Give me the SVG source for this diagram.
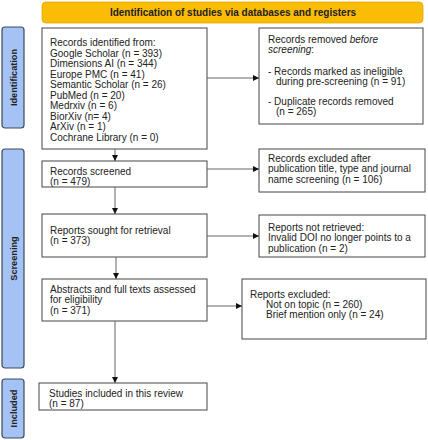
<svg xmlns="http://www.w3.org/2000/svg" width="428" height="440" viewBox="0 0 428 440">
<defs>
<style>
.box{fill:#fff;stroke:#444;stroke-width:1}
.side{fill:#a4c2f4;stroke:#3c4a5c;stroke-width:1.2}
.t{font-family:"Liberation Sans",Arial,sans-serif;font-size:10px;fill:#222}
.b{font-family:"Liberation Sans",Arial,sans-serif;font-size:9.2px;font-weight:bold;fill:#222}
.h{font-family:"Liberation Sans",Arial,sans-serif;font-size:10px;font-weight:bold;fill:#222}
.c{stroke:#666;stroke-width:1;fill:none}
</style>
<marker id="ah" viewBox="0 0 10 10" refX="10" refY="5" markerWidth="6" markerHeight="6" orient="auto" markerUnits="userSpaceOnUse">
<path d="M0,0 L10,5 L0,10 z" fill="#111"/>
</marker>
</defs>
<rect width="428" height="440" fill="#fff"/>
<g id="header">
<rect x="42" y="2" width="381" height="21" rx="4" fill="#fbbc05" stroke="#e0a800" stroke-width="0.8"/>
<text class="h" x="233" y="16" text-anchor="middle">Identification of studies via databases and registers</text>
</g>
<g id="side-identification">
<rect class="side" x="2" y="27" width="22" height="101" rx="3"/>
<text class="b" transform="translate(16.5,77.5) rotate(-90)" text-anchor="middle">Identification</text>
</g>
<g id="side-screening">
<rect class="side" x="2" y="149" width="22" height="219" rx="3"/>
<text class="b" transform="translate(16.5,258.5) rotate(-90)" text-anchor="middle">Screening</text>
</g>
<g id="side-included">
<rect class="side" x="2" y="379" width="22" height="59" rx="3"/>
<text class="b" transform="translate(16.5,408.5) rotate(-90)" text-anchor="middle">Included</text>
</g>
<g id="records-identified">
<rect class="box" x="42" y="28" width="165" height="121"/>
<text class="t" x="50" y="46">Records identified from:</text>
<text class="t" x="50" y="56.5">Google Scholar (n = 393)</text>
<text class="t" x="50" y="67">Dimensions AI (n = 344)</text>
<text class="t" x="50" y="77.5">Europe PMC (n = 41)</text>
<text class="t" x="50" y="88">Semantic Scholar (n = 26)</text>
<text class="t" x="50" y="98.5">PubMed (n = 20)</text>
<text class="t" x="50" y="109">Medrxiv (n = 6)</text>
<text class="t" x="50" y="119.5">BiorXiv (n= 4)</text>
<text class="t" x="50" y="130">ArXiv (n = 1)</text>
<text class="t" x="50" y="140.5">Cochrane Library (n = 0)</text>
</g>
<g id="records-removed">
<rect class="box" x="259" y="28" width="164" height="96"/>
<text class="t" x="268" y="42.5">Records removed <tspan font-style="italic">before</tspan></text>
<text class="t" x="268" y="52.5"><tspan font-style="italic">screening</tspan>:</text>
<text class="t" x="268" y="74.5">- Records marked as ineligible</text>
<text class="t" x="276" y="84.5">during pre-screening (n = 91)</text>
<text class="t" x="268" y="104.5">- Duplicate records removed</text>
<text class="t" x="276" y="115">(n = 265)</text>
</g>
<g id="records-screened">
<rect class="box" x="42" y="161" width="165" height="26"/>
<text class="t" x="50" y="174.5">Records screened</text>
<text class="t" x="50" y="185">(n = 479)</text>
</g>
<g id="records-excluded">
<rect class="box" x="259" y="149" width="166" height="43"/>
<text class="t" x="268" y="161.5">Records excluded after</text>
<text class="t" x="268" y="172">publication title, type and journal</text>
<text class="t" x="268" y="182.5">name screening (n = 106)</text>
</g>
<g id="reports-sought">
<rect class="box" x="42" y="214" width="165" height="43"/>
<text class="t" x="50" y="233.5">Reports sought for retrieval</text>
<text class="t" x="50" y="244">(n = 373)</text>
</g>
<g id="reports-not-retrieved">
<rect class="box" x="259" y="215" width="166" height="42"/>
<text class="t" x="268" y="230.5">Reports not retrieved:</text>
<text class="t" x="268" y="241">Invalid DOI no longer points to a</text>
<text class="t" x="268" y="251.5">publication (n = 2)</text>
</g>
<g id="assessed">
<rect class="box" x="42" y="279" width="165" height="42"/>
<text class="t" x="50" y="292.5">Abstracts and full texts assessed</text>
<text class="t" x="50" y="303">for eligibility</text>
<text class="t" x="50" y="314">(n = 371)</text>
</g>
<g id="reports-excluded">
<rect class="box" x="242" y="279" width="184" height="60"/>
<text class="t" x="250" y="297.5">Reports excluded:</text>
<text class="t" x="266" y="307.5">Not on topic (n = 260)</text>
<text class="t" x="266" y="318">Brief mention only (n = 24)</text>
</g>
<g id="included">
<rect class="box" x="39" y="383" width="168" height="27"/>
<text class="t" x="49" y="396.5">Studies included in this review</text>
<text class="t" x="49" y="407">(n = 87)</text>
</g>
<g id="connectors">
<line class="c" x1="207" y1="78" x2="259" y2="78" marker-end="url(#ah)"/>
<line class="c" x1="115" y1="149" x2="115" y2="161" marker-end="url(#ah)"/>
<line class="c" x1="207" y1="169" x2="259" y2="169" marker-end="url(#ah)"/>
<line class="c" x1="115" y1="187" x2="115" y2="214" marker-end="url(#ah)"/>
<line class="c" x1="207" y1="236" x2="259" y2="236" marker-end="url(#ah)"/>
<line class="c" x1="116" y1="257" x2="116" y2="279" marker-end="url(#ah)"/>
<line class="c" x1="207" y1="306" x2="242" y2="306" marker-end="url(#ah)"/>
<line class="c" x1="115" y1="321" x2="115" y2="383" marker-end="url(#ah)"/>
</g>
</svg>
